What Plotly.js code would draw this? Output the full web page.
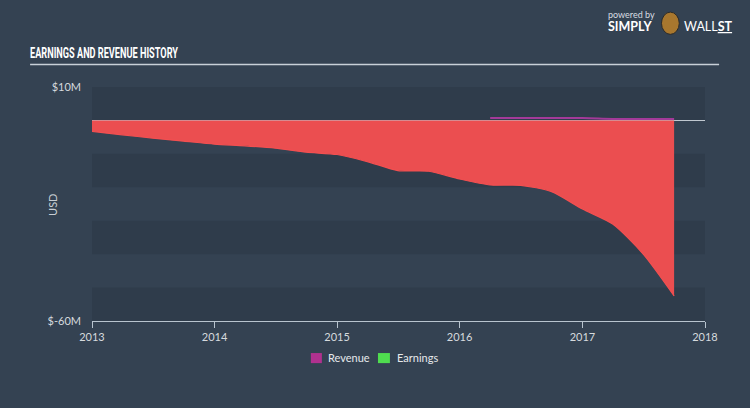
<!DOCTYPE html>
<html>
<head>
<meta charset="utf-8">
<script src="https://cdn.plot.ly/plotly-3.0.1.min.js"></script>
<style>
html,body{margin:0;padding:0;background:#344252;}
#chart{width:750px;height:408px;}
</style>
</head>
<body>
<div id="chart"></div>
<script>
// Quarterly dates
const earningsDates = ['2013-01-01','2013-04-01','2013-07-01','2013-10-01','2014-01-01','2014-04-01','2014-07-01','2014-10-01','2015-01-01','2015-04-01','2015-07-01','2015-10-01','2016-01-01','2016-04-01','2016-07-01','2016-10-01','2017-01-01','2017-04-01','2017-07-01','2017-10-01'];
// Earnings in $M
const earningsValues = [-3.3,-4.3,-5.3,-6.2,-7.1,-7.6,-8.3,-9.5,-10.2,-12.3,-15.0,-15.2,-17.5,-19.3,-19.4,-21.3,-26.5,-31.0,-40.0,-52.5];
const revenueDates = ['2016-04-01','2016-07-01','2016-10-01','2017-01-01','2017-04-01','2017-07-01','2017-10-01'];
const revenueValues = [0.7,0.7,0.7,0.7,0.45,0.4,0.4];
const yTickVals = [10,-60];
const yTickText = ['$10M','$-60M'];
const xTickVals = ['2013-01-01','2014-01-01','2015-01-01','2016-01-01','2017-01-01','2018-01-01'];
const xTickText = ['2013','2014','2015','2016','2017','2018'];
const legendNames = ['Revenue','Earnings'];
const legendColors = ['#b0318f','#4fdc4f'];
const bandRanges = [[0,10],[-20,-10],[-40,-30],[-60,-50]];

const traces = [
  {
    x: earningsDates, y: earningsValues, type: 'scatter', mode: 'lines',
    line: {color: '#f24f50', width: 1.2, shape: 'spline', smoothing: 0.7},
    fill: 'tozeroy', fillcolor: '#eb4e50', showlegend: false, hoverinfo: 'skip'
  },
  {
    x: revenueDates, y: revenueValues, type: 'scatter', mode: 'lines',
    line: {color: '#a33a99', width: 2, shape: 'spline'},
    showlegend: false, hoverinfo: 'skip'
  }
];

const shapes = bandRanges.map(r => ({
  type: 'rect', xref: 'paper', yref: 'y', x0: 0, x1: 1, y0: r[0], y1: r[1],
  fillcolor: '#2f3c4b', line: {width: 0}, layer: 'below'
}));
shapes.push({type: 'line', xref: 'paper', yref: 'paper', x0: -0.101, x1: 1.023, y0: 1.096, y1: 1.096,
  line: {color: '#c8d0d8', width: 1.5}});
// logo mark
shapes.push({type: 'circle', xref: 'paper', yref: 'paper', x0: 0.929, x1: 0.958, y0: 1.225, y1: 1.32,
  fillcolor: '#a8772e', line: {color: '#2a2a2a', width: 1}});

const labelFont = {family: 'Lato, "Open Sans", sans-serif', size: 11, color: '#d6dade'};

// custom legend (symbol boxes + labels)
const legendBoxX = [[0.357, 0.375], [0.4665, 0.486]];
const legendTextX = [0.382, 0.494];
legendNames.forEach((n, i) => {
  shapes.push({type: 'rect', xref: 'paper', yref: 'paper', x0: legendBoxX[i][0], x1: legendBoxX[i][1],
    y0: -0.18, y1: -0.137, fillcolor: legendColors[i], line: {width: 0}});
});

const annotations = [
  {xref: 'paper', yref: 'paper', x: 0.0196, y: 1.145, xanchor: 'center', yanchor: 'middle', showarrow: false,
    text: '<b>EARNINGS AND REVENUE HISTORY</b>',
    font: {family: 'Roboto, "DejaVu Sans", sans-serif', size: 14, color: '#ffffff'}},
  {xref: 'paper', yref: 'paper', x: 0.839, y: 1.31, xanchor: 'left', yanchor: 'middle', showarrow: false,
    text: 'powered by', font: {family: 'Lato, sans-serif', size: 9, color: '#d8dde2'}},
  {xref: 'paper', yref: 'paper', x: 0.839, y: 1.258, xanchor: 'left', yanchor: 'middle', showarrow: false,
    text: '<b>SIMPLY</b>', font: {family: 'Lato, sans-serif', size: 12.5, color: '#ffffff'}},
  {xref: 'paper', yref: 'paper', x: 0.962, y: 1.258, xanchor: 'left', yanchor: 'middle', showarrow: false,
    text: 'WALL<b><u>ST</u></b>', font: {family: 'Lato, sans-serif', size: 12.5, color: '#ffffff'}},
  {xref: 'paper', yref: 'paper', x: -0.0636, y: 0.496, xanchor: 'center', yanchor: 'middle', showarrow: false,
    text: 'USD', textangle: -90, font: {family: 'Lato, "Open Sans", sans-serif', size: 11, color: '#c8ced4'}}
];
legendNames.forEach((n, i) => {
  annotations.push({xref: 'paper', yref: 'paper', x: legendTextX[i], y: -0.158, xanchor: 'left', yanchor: 'middle',
    showarrow: false, text: n, font: {family: 'Lato, "Open Sans", sans-serif', size: 11, color: '#e6e9ec'}});
});

const layout = {
  width: 750, height: 408,
  paper_bgcolor: '#344252', plot_bgcolor: 'rgba(0,0,0,0)',
  margin: {l: 92, r: 45, t: 87, b: 87},
  showlegend: false,
  xaxis: {
    type: 'date', range: ['2013-01-01','2018-01-01'],
    tickvals: xTickVals, ticktext: xTickText, tickfont: labelFont,
    ticks: 'outside', ticklen: 6, tickcolor: '#b8c4cf', showline: true, linecolor: '#b8c4cf', linewidth: 1,
    showgrid: false, zeroline: false, fixedrange: true
  },
  yaxis: {
    range: [-60, 10], tickvals: yTickVals, ticktext: yTickText, tickfont: labelFont,
    showgrid: false, zeroline: true, zerolinecolor: '#c0c8d0', zerolinewidth: 1,
    showline: false, ticks: '', ticklabelstandoff: 10, fixedrange: true
  },
  shapes: shapes,
  annotations: annotations
};

Plotly.newPlot('chart', traces, layout, {displayModeBar: false, staticPlot: true}).then(gd => {
  // compress the header text horizontally to mimic the condensed display face
  const t = gd.querySelector('.annotation[data-index="0"] text');
  if (t) { t.setAttribute('textLength', '148'); t.setAttribute('lengthAdjust', 'spacingAndGlyphs'); }
});
</script>
</body>
</html>
